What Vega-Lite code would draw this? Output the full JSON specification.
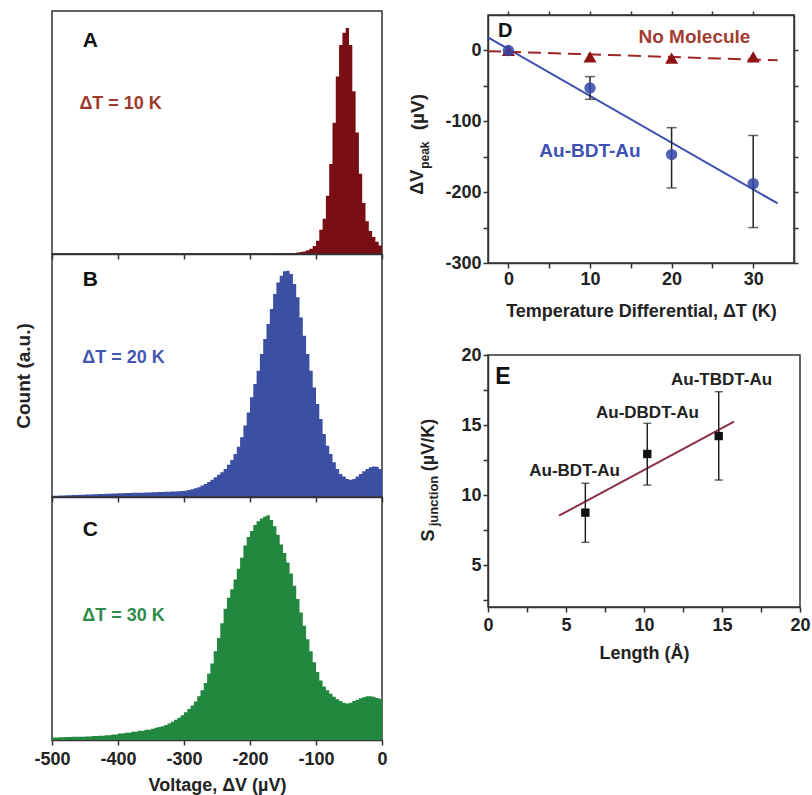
{
  "$schema": "https://vega.github.io/schema/vega-lite/v6.json",
  "padding": {"left": 13, "top": 9, "right": 0, "bottom": 0},
  "autosize": {"type": "pad"},
  "background": "white",
  "config": {
    "view": {"stroke": "#333", "strokeWidth": 1.5},
    "font": "Liberation Sans",
    "axis": {"labelFont": "Liberation Sans", "labelFontWeight": "bold", "labelFontSize": 18, "labelColor": "#222", "titleFont": "Liberation Sans", "titleFontWeight": "bold", "titleFontSize": 18, "titleColor": "#222", "domainColor": "#333", "domainWidth": 1.5, "tickColor": "#333", "tickWidth": 1.5, "tickSize": 5, "grid": false, "labelPadding": 2, "labelFlush": false, "labelOverlap": false},
    "text": {"font": "Liberation Sans", "fontWeight": "bold"}
  },
  "bounds": "flush",
  "spacing": 436,
  "hconcat": [
    {
      "bounds": "flush",
      "spacing": 0,
      "vconcat": [
        {
          "width": 330, "height": 243,
          "layer": [
            {
              "data": {"values": [
                {"v": -500, "h": 0}, {"v": -200, "h": 0}, {"v": -170, "h": 0.1}, {"v": -150, "h": 0.2}, {"v": -140, "h": 0.4}, {"v": -130, "h": 0.6}, {"v": -125, "h": 0.8}, {"v": -120, "h": 1.0}, {"v": -115, "h": 1.5}, {"v": -110, "h": 2.2}, {"v": -105, "h": 3.3}, {"v": -100, "h": 5.5}, {"v": -95, "h": 10}, {"v": -90, "h": 14.5}, {"v": -85, "h": 24}, {"v": -80, "h": 37}, {"v": -75, "h": 54}, {"v": -70, "h": 73}, {"v": -65, "h": 86}, {"v": -60, "h": 91}, {"v": -55, "h": 93}, {"v": -50, "h": 86}, {"v": -45, "h": 67}, {"v": -40, "h": 50}, {"v": -35, "h": 33}, {"v": -30, "h": 21}, {"v": -25, "h": 13.5}, {"v": -20, "h": 9.5}, {"v": -15, "h": 7}, {"v": -10, "h": 5}, {"v": -5, "h": 3.5}, {"v": 0, "h": 3.5}
              ]},
              "mark": {"type": "area", "interpolate": "step-after", "color": "#7a0e15"},
              "encoding": {
                "x": {"field": "v", "type": "quantitative", "scale": {"domain": [-500, 0], "nice": false, "zero": false}, "axis": {"values": [-500, -450, -400, -350, -300, -250, -200, -150, -100, -50, 0], "labels": false, "title": null}},
                "y": {"field": "h", "type": "quantitative", "scale": {"domain": [0, 100], "nice": false}, "axis": null}
              }
            },
            {"data": {"values": [{}]}, "mark": {"type": "text", "text": "A", "fontSize": 21, "color": "#111", "align": "center", "baseline": "middle"}, "encoding": {"x": {"datum": -442}, "y": {"datum": 87.7}}},
            {"data": {"values": [{}]}, "mark": {"type": "text", "text": "ΔT = 10 K", "fontSize": 18, "color": "#9c3b2c", "align": "center", "baseline": "middle"}, "encoding": {"x": {"datum": -396}, "y": {"datum": 61.9}}}
          ]
        },
        {
          "width": 330, "height": 243,
          "layer": [
            {
              "data": {"values": [
                {"v": -500, "h": 0.5}, {"v": -490, "h": 0.6}, {"v": -480, "h": 0.7}, {"v": -470, "h": 0.8}, {"v": -460, "h": 0.9}, {"v": -450, "h": 1.0}, {"v": -440, "h": 1.1}, {"v": -430, "h": 1.2}, {"v": -420, "h": 1.3}, {"v": -410, "h": 1.4}, {"v": -400, "h": 1.5}, {"v": -390, "h": 1.6}, {"v": -380, "h": 1.7}, {"v": -370, "h": 1.8}, {"v": -360, "h": 1.9}, {"v": -350, "h": 2.0}, {"v": -340, "h": 2.1}, {"v": -330, "h": 2.2}, {"v": -320, "h": 2.3}, {"v": -310, "h": 2.4}, {"v": -305, "h": 2.5}, {"v": -300, "h": 2.6}, {"v": -295, "h": 2.9}, {"v": -290, "h": 3.2}, {"v": -285, "h": 3.6}, {"v": -280, "h": 4.0}, {"v": -275, "h": 4.7}, {"v": -270, "h": 5.3}, {"v": -265, "h": 6.2}, {"v": -260, "h": 7.1}, {"v": -255, "h": 8.1}, {"v": -250, "h": 9.2}, {"v": -245, "h": 10.2}, {"v": -240, "h": 11.5}, {"v": -235, "h": 13.3}, {"v": -230, "h": 15.2}, {"v": -225, "h": 17.7}, {"v": -220, "h": 20.7}, {"v": -215, "h": 24.6}, {"v": -210, "h": 29.4}, {"v": -205, "h": 34.8}, {"v": -200, "h": 41.0}, {"v": -195, "h": 46.5}, {"v": -190, "h": 52.0}, {"v": -185, "h": 58.8}, {"v": -180, "h": 65.0}, {"v": -175, "h": 71.2}, {"v": -170, "h": 77.4}, {"v": -165, "h": 83.5}, {"v": -160, "h": 88.3}, {"v": -155, "h": 91.1}, {"v": -150, "h": 92.9}, {"v": -145, "h": 93.1}, {"v": -140, "h": 91.8}, {"v": -135, "h": 87.7}, {"v": -130, "h": 82.2}, {"v": -125, "h": 73.9}, {"v": -120, "h": 66.4}, {"v": -115, "h": 58.8}, {"v": -110, "h": 52.0}, {"v": -105, "h": 45.1}, {"v": -100, "h": 38.3}, {"v": -95, "h": 32.1}, {"v": -90, "h": 25.9}, {"v": -85, "h": 21.1}, {"v": -80, "h": 17.7}, {"v": -75, "h": 14.3}, {"v": -70, "h": 11.5}, {"v": -65, "h": 9.5}, {"v": -60, "h": 8.4}, {"v": -55, "h": 7.4}, {"v": -50, "h": 7.1}, {"v": -45, "h": 7.4}, {"v": -40, "h": 8.4}, {"v": -35, "h": 9.5}, {"v": -30, "h": 10.6}, {"v": -25, "h": 11.5}, {"v": -20, "h": 12.2}, {"v": -15, "h": 12.6}, {"v": -10, "h": 12.5}, {"v": -5, "h": 11.5}, {"v": 0, "h": 11.5}
              ]},
              "mark": {"type": "area", "interpolate": "step-after", "color": "#3b50a3"},
              "encoding": {
                "x": {"field": "v", "type": "quantitative", "scale": {"domain": [-500, 0], "nice": false, "zero": false}, "axis": {"values": [-500, -450, -400, -350, -300, -250, -200, -150, -100, -50, 0], "labels": false, "title": null}},
                "y": {"field": "h", "type": "quantitative", "scale": {"domain": [0, 100], "nice": false}, "axis": {"title": "Count (a.u.)", "labels": false, "ticks": false, "domain": false, "titlePadding": 19, "titleFontSize": 19}}
              }
            },
            {"data": {"values": [{}]}, "mark": {"type": "text", "text": "B", "fontSize": 21, "color": "#111", "align": "center", "baseline": "middle"}, "encoding": {"x": {"datum": -442}, "y": {"datum": 89.1}}},
            {"data": {"values": [{}]}, "mark": {"type": "text", "text": "ΔT = 20 K", "fontSize": 18, "color": "#4257b0", "align": "center", "baseline": "middle"}, "encoding": {"x": {"datum": -391.7}, "y": {"datum": 57.4}}}
          ]
        },
        {
          "width": 330, "height": 243,
          "layer": [
            {
              "data": {"values": [
                {"v": -500, "h": 1.0}, {"v": -490, "h": 1.1}, {"v": -480, "h": 1.2}, {"v": -470, "h": 1.3}, {"v": -460, "h": 1.35}, {"v": -450, "h": 1.4}, {"v": -440, "h": 1.6}, {"v": -430, "h": 1.8}, {"v": -420, "h": 2.0}, {"v": -410, "h": 2.3}, {"v": -400, "h": 2.7}, {"v": -390, "h": 3.0}, {"v": -380, "h": 3.4}, {"v": -370, "h": 3.8}, {"v": -360, "h": 4.2}, {"v": -350, "h": 4.6}, {"v": -345, "h": 5.0}, {"v": -340, "h": 5.3}, {"v": -335, "h": 5.7}, {"v": -330, "h": 6.2}, {"v": -325, "h": 6.8}, {"v": -320, "h": 7.5}, {"v": -315, "h": 8.3}, {"v": -310, "h": 9.2}, {"v": -305, "h": 10.2}, {"v": -300, "h": 11.4}, {"v": -295, "h": 12.8}, {"v": -290, "h": 14.2}, {"v": -285, "h": 15.8}, {"v": -280, "h": 18.0}, {"v": -275, "h": 20.5}, {"v": -270, "h": 23.5}, {"v": -265, "h": 27.3}, {"v": -260, "h": 31.5}, {"v": -255, "h": 36.5}, {"v": -250, "h": 42.0}, {"v": -245, "h": 48.0}, {"v": -240, "h": 54.0}, {"v": -235, "h": 58.5}, {"v": -230, "h": 62.0}, {"v": -225, "h": 66.0}, {"v": -220, "h": 70.5}, {"v": -215, "h": 75.0}, {"v": -210, "h": 80.0}, {"v": -205, "h": 83.5}, {"v": -200, "h": 86.0}, {"v": -195, "h": 88.5}, {"v": -190, "h": 90.0}, {"v": -185, "h": 91.2}, {"v": -180, "h": 92.0}, {"v": -175, "h": 92.5}, {"v": -170, "h": 90.5}, {"v": -165, "h": 88.0}, {"v": -160, "h": 84.5}, {"v": -155, "h": 80.5}, {"v": -150, "h": 77.0}, {"v": -145, "h": 73.0}, {"v": -140, "h": 68.5}, {"v": -135, "h": 63.5}, {"v": -130, "h": 58.0}, {"v": -125, "h": 52.5}, {"v": -120, "h": 47.0}, {"v": -115, "h": 41.5}, {"v": -110, "h": 36.5}, {"v": -105, "h": 32.0}, {"v": -100, "h": 28.0}, {"v": -95, "h": 24.5}, {"v": -90, "h": 22.0}, {"v": -85, "h": 20.5}, {"v": -80, "h": 19.0}, {"v": -75, "h": 17.8}, {"v": -70, "h": 16.8}, {"v": -65, "h": 16.0}, {"v": -60, "h": 15.3}, {"v": -55, "h": 15.0}, {"v": -50, "h": 15.3}, {"v": -45, "h": 16.0}, {"v": -40, "h": 16.6}, {"v": -35, "h": 17.2}, {"v": -30, "h": 17.6}, {"v": -25, "h": 18.0}, {"v": -20, "h": 18.0}, {"v": -15, "h": 17.8}, {"v": -10, "h": 17.3}, {"v": -5, "h": 17.0}, {"v": 0, "h": 17.0}
              ]},
              "mark": {"type": "area", "interpolate": "step-after", "color": "#22873f"},
              "encoding": {
                "x": {"field": "v", "type": "quantitative", "scale": {"domain": [-500, 0], "nice": false, "zero": false}, "axis": {"values": [-500, -450, -400, -350, -300, -250, -200, -150, -100, -50, 0], "labelExpr": "datum.value % 100 === 0 ? '' + datum.value : ''", "title": "Voltage, ΔV (µV)", "labelPadding": 5, "titlePadding": 8}},
                "y": {"field": "h", "type": "quantitative", "scale": {"domain": [0, 100], "nice": false}, "axis": null}
              }
            },
            {"data": {"values": [{}]}, "mark": {"type": "text", "text": "C", "fontSize": 21, "color": "#111", "align": "center", "baseline": "middle"}, "encoding": {"x": {"datum": -442}, "y": {"datum": 86.6}}},
            {"data": {"values": [{}]}, "mark": {"type": "text", "text": "ΔT = 30 K", "fontSize": 18, "color": "#2e8b4a", "align": "center", "baseline": "middle"}, "encoding": {"x": {"datum": -391.7}, "y": {"datum": 51.0}}}
          ]
        }
      ]
    },
    {
      "bounds": "flush",
      "spacing": 0,
      "vconcat": [
        {"width": 306, "height": 4, "view": {"stroke": null}, "data": {"values": [{}]}, "mark": {"type": "point", "opacity": 0}, "encoding": {}},
        {
          "width": 306, "height": 248,
          "resolve": {"axis": {"x": "independent", "y": "independent"}},
          "layer": [
            {
              "data": {"values": [{"t": -2.5, "v": 18.4}, {"t": 33, "v": -216}]},
              "mark": {"type": "line", "color": "#3f4fae", "strokeWidth": 2},
              "encoding": {
                "x": {"field": "t", "type": "quantitative", "scale": {"domain": [-2.5, 35], "nice": false, "zero": false}, "axis": {"values": [0, 5, 10, 15, 20, 25, 30], "labelExpr": "datum.value % 10 === 0 ? '' + datum.value : ''", "title": "Temperature Differential, ΔT (K)", "titlePadding": 14}},
                "y": {"field": "v", "type": "quantitative", "scale": {"domain": [-300, 50], "nice": false, "zero": false}, "axis": {"values": [-300, -250, -200, -150, -100, -50, 0], "labelExpr": "datum.value % 100 === 0 ? '' + datum.value : ''", "title": null}}
              }
            },
            {
              "data": {"values": [{"t": -2.5, "v": -1}, {"t": 33, "v": -14}]},
              "mark": {"type": "line", "color": "#9b2626", "strokeWidth": 2, "strokeDash": [13, 7]},
              "encoding": {
                "x": {"field": "t", "type": "quantitative", "axis": {"orient": "top", "values": [0, 5, 10, 15, 20, 25, 30], "labels": false, "title": null, "tickSize": 4}},
                "y": {"field": "v", "type": "quantitative", "axis": {"orient": "right", "values": [-300, -250, -200, -150, -100, -50, 0], "labels": false, "title": null, "tickSize": 4}}
              }
            },
            {
              "data": {"values": [{"t": 10, "lo": -69, "hi": -37}, {"t": 20, "lo": -194, "hi": -109}, {"t": 30, "lo": -250, "hi": -120}]},
              "mark": {"type": "rule", "color": "#222", "strokeWidth": 1.5},
              "encoding": {"x": {"field": "t", "type": "quantitative", "axis": null}, "y": {"field": "lo", "type": "quantitative", "axis": null}, "y2": {"field": "hi"}}
            },
            {
              "data": {"values": [{"t": 10, "lo": -69, "hi": -37}, {"t": 20, "lo": -194, "hi": -109}, {"t": 30, "lo": -250, "hi": -120}]},
              "mark": {"type": "tick", "orient": "horizontal", "color": "#222", "size": 10, "thickness": 1.5},
              "encoding": {"x": {"field": "t", "type": "quantitative", "axis": null}, "y": {"field": "lo", "type": "quantitative", "axis": null}}
            },
            {
              "data": {"values": [{"t": 10, "lo": -69, "hi": -37}, {"t": 20, "lo": -194, "hi": -109}, {"t": 30, "lo": -250, "hi": -120}]},
              "mark": {"type": "tick", "orient": "horizontal", "color": "#222", "size": 10, "thickness": 1.5},
              "encoding": {"x": {"field": "t", "type": "quantitative", "axis": null}, "y": {"field": "hi", "type": "quantitative", "axis": null}}
            },
            {
              "data": {"values": [{"t": 0, "v": 0}, {"t": 10, "v": -9}, {"t": 20, "v": -11}, {"t": 30, "v": -9}]},
              "mark": {"type": "point", "shape": "triangle-up", "filled": true, "color": "#8e1414", "size": 170, "opacity": 1},
              "encoding": {"x": {"field": "t", "type": "quantitative", "axis": null}, "y": {"field": "v", "type": "quantitative", "axis": null}}
            },
            {
              "data": {"values": [{"t": 0, "v": 0}, {"t": 10, "v": -53}, {"t": 20, "v": -147}, {"t": 30, "v": -188}]},
              "mark": {"type": "point", "shape": "circle", "filled": true, "color": "#3446a8", "size": 130, "opacity": 0.85},
              "encoding": {"x": {"field": "t", "type": "quantitative", "axis": null}, "y": {"field": "v", "type": "quantitative", "axis": null}}
            },
            {"data": {"values": [{}]}, "mark": {"type": "text", "text": "D", "fontSize": 20, "color": "#111", "align": "center", "baseline": "middle"}, "encoding": {"x": {"datum": -0.4, "axis": null}, "y": {"datum": 28, "axis": null}}},
            {"data": {"values": [{}]}, "mark": {"type": "text", "text": "No Molecule", "fontSize": 19, "color": "#a13d32", "align": "center", "baseline": "middle"}, "encoding": {"x": {"datum": 22.8, "axis": null}, "y": {"datum": 19, "axis": null}}},
            {"data": {"values": [{}]}, "mark": {"type": "text", "text": "Au-BDT-Au", "fontSize": 19, "color": "#3f51b5", "align": "center", "baseline": "middle"}, "encoding": {"x": {"datum": 10.0, "axis": null}, "y": {"datum": -141.5, "axis": null}}},
            {"data": {"values": [{}]}, "mark": {"type": "text", "text": "ΔV", "fontSize": 18, "color": "#222", "angle": 270, "align": "center", "baseline": "middle"}, "encoding": {"x": {"datum": -11.03, "axis": null}, "y": {"datum": -186, "axis": null}}},
            {"data": {"values": [{}]}, "mark": {"type": "text", "text": "peak", "fontSize": 12, "color": "#222", "angle": 270, "align": "center", "baseline": "middle"}, "encoding": {"x": {"datum": -10.17, "axis": null}, "y": {"datum": -147.8, "axis": null}}},
            {"data": {"values": [{}]}, "mark": {"type": "text", "text": "(µV)", "fontSize": 19, "color": "#222", "angle": 270, "align": "center", "baseline": "middle"}, "encoding": {"x": {"datum": -11.03, "axis": null}, "y": {"datum": -87, "axis": null}}}
          ]
        },
        {"width": 306, "height": 92, "view": {"stroke": null}, "data": {"values": [{}]}, "mark": {"type": "point", "opacity": 0}, "encoding": {}},
        {
          "width": 312, "height": 252,
          "resolve": {"axis": {"x": "independent", "y": "independent"}},
          "layer": [
            {
              "data": {"values": [{"l": 4.55, "s": 8.52}, {"l": 15.77, "s": 15.24}]},
              "mark": {"type": "line", "color": "#8a3045", "strokeWidth": 2},
              "encoding": {
                "x": {"field": "l", "type": "quantitative", "scale": {"domain": [0, 20], "nice": false, "zero": false}, "axis": {"values": [0, 2.5, 5, 7.5, 10, 12.5, 15, 17.5, 20], "labelExpr": "datum.value % 5 === 0 ? '' + datum.value : ''", "title": "Length (Å)", "labelPadding": 4, "titlePadding": 10}},
                "y": {"field": "s", "type": "quantitative", "scale": {"domain": [2, 20], "nice": false, "zero": false}, "axis": {"values": [2.5, 5, 7.5, 10, 12.5, 15, 17.5, 20], "labelExpr": "datum.value % 5 === 0 ? '' + datum.value : ''", "title": null}}
              }
            },
            {
              "data": {"values": [{"l": 6.24, "lo": 6.62, "hi": 10.84}, {"l": 10.21, "lo": 10.71, "hi": 15.12}, {"l": 14.79, "lo": 11.07, "hi": 17.38}]},
              "mark": {"type": "rule", "color": "#222", "strokeWidth": 1.5},
              "encoding": {"x": {"field": "l", "type": "quantitative", "axis": null}, "y": {"field": "lo", "type": "quantitative", "axis": null}, "y2": {"field": "hi"}}
            },
            {
              "data": {"values": [{"l": 6.24, "lo": 6.62, "hi": 10.84}, {"l": 10.21, "lo": 10.71, "hi": 15.12}, {"l": 14.79, "lo": 11.07, "hi": 17.38}]},
              "mark": {"type": "tick", "orient": "horizontal", "color": "#222", "size": 8, "thickness": 1.5},
              "encoding": {"x": {"field": "l", "type": "quantitative", "axis": null}, "y": {"field": "lo", "type": "quantitative", "axis": null}}
            },
            {
              "data": {"values": [{"l": 6.24, "lo": 6.62, "hi": 10.84}, {"l": 10.21, "lo": 10.71, "hi": 15.12}, {"l": 14.79, "lo": 11.07, "hi": 17.38}]},
              "mark": {"type": "tick", "orient": "horizontal", "color": "#222", "size": 8, "thickness": 1.5},
              "encoding": {"x": {"field": "l", "type": "quantitative", "axis": null}, "y": {"field": "hi", "type": "quantitative", "axis": null}}
            },
            {
              "data": {"values": [{"l": 6.24, "s": 8.74}, {"l": 10.21, "s": 12.93}, {"l": 14.79, "s": 14.21}]},
              "mark": {"type": "point", "shape": "square", "filled": true, "color": "#111", "size": 70, "opacity": 1},
              "encoding": {"x": {"field": "l", "type": "quantitative", "axis": null}, "y": {"field": "s", "type": "quantitative", "axis": null}}
            },
            {"data": {"values": [{}]}, "mark": {"type": "text", "text": "E", "fontSize": 23, "color": "#111", "align": "center", "baseline": "middle"}, "encoding": {"x": {"datum": 0.96, "axis": null}, "y": {"datum": 18.46, "axis": null}}},
            {"data": {"values": [{}]}, "mark": {"type": "text", "text": "Au-BDT-Au", "fontSize": 17, "color": "#222", "align": "center", "baseline": "middle"}, "encoding": {"x": {"datum": 5.55, "axis": null}, "y": {"datum": 11.71, "axis": null}}},
            {"data": {"values": [{}]}, "mark": {"type": "text", "text": "Au-DBDT-Au", "fontSize": 17, "color": "#222", "align": "center", "baseline": "middle"}, "encoding": {"x": {"datum": 10.22, "axis": null}, "y": {"datum": 15.86, "axis": null}}},
            {"data": {"values": [{}]}, "mark": {"type": "text", "text": "Au-TBDT-Au", "fontSize": 17, "color": "#222", "align": "center", "baseline": "middle"}, "encoding": {"x": {"datum": 14.97, "axis": null}, "y": {"datum": 18.21, "axis": null}}},
            {"data": {"values": [{}]}, "mark": {"type": "text", "text": "S", "fontSize": 18, "color": "#222", "angle": 270, "align": "center", "baseline": "middle"}, "encoding": {"x": {"datum": -3.78, "axis": null}, "y": {"datum": 7.11, "axis": null}}},
            {"data": {"values": [{}]}, "mark": {"type": "text", "text": "junction", "fontSize": 13, "color": "#222", "angle": 270, "align": "center", "baseline": "middle"}, "encoding": {"x": {"datum": -3.43, "axis": null}, "y": {"datum": 9.57, "axis": null}}},
            {"data": {"values": [{}]}, "mark": {"type": "text", "text": "(µV/K)", "fontSize": 18, "color": "#222", "angle": 270, "align": "center", "baseline": "middle"}, "encoding": {"x": {"datum": -3.78, "axis": null}, "y": {"datum": 13.57, "axis": null}}}
          ]
        }
      ]
    }
  ]
}
